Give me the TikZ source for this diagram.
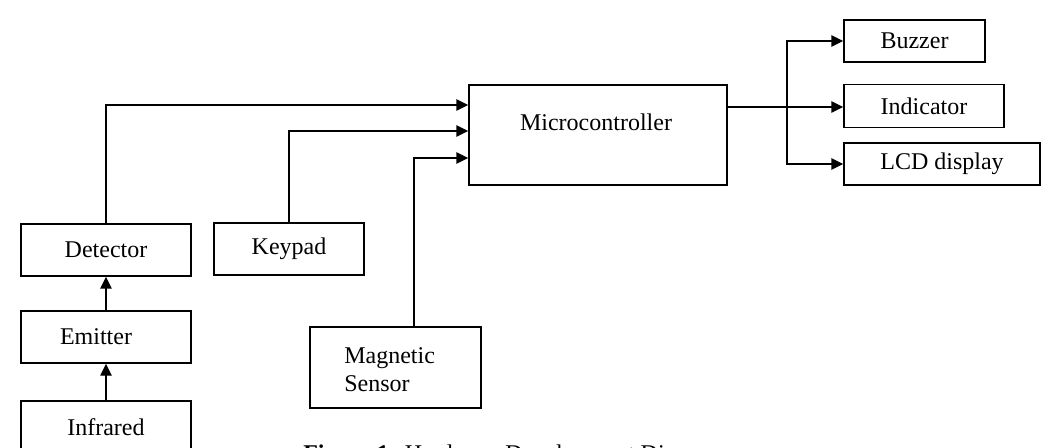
\documentclass[tikz,border=0pt]{standalone}
\usepackage{fontspec}
\setmainfont{Liberation Serif}
\usetikzlibrary{arrows.meta}
\begin{document}
\begin{tikzpicture}[x=0.75pt,y=-0.75pt,
  box/.style={draw,line width=1.1pt,inner sep=0pt,font=\fontsize{18}{21}\selectfont},
  lbl/.style={inner sep=0pt,font=\fontsize{18}{21}\selectfont},
  arr/.style={line width=1.1pt,-{Triangle[length=9pt,width=8.5pt]}},
  ln/.style={line width=1.1pt}]
\useasboundingbox[fill=white] (0,0) rectangle (1044,448);
\node[box,minimum width=193.5pt,minimum height=75pt] (mcu) at (598,135) {};
\node[lbl] (mcut) at (596,122) {Microcontroller};
\node[box,minimum width=105.75pt,minimum height=31.5pt] (buz) at (914.5,41) {Buzzer};
\node[box,minimum width=120pt,minimum height=32.25pt] (ind) at (924,106) {Indicator};
\node[box,minimum width=147pt,minimum height=31.5pt] (lcd) at (942,164) {LCD display};
\node[box,minimum width=127.5pt,minimum height=39pt] (det) at (106,250) {Detector};
\node[box,minimum width=127.5pt,minimum height=39pt] (emi) at (106,337) {\hspace*{-15pt}Emitter};
\node[box,minimum width=127.5pt,minimum height=39pt] (inf) at (106,427) {Infrared};
\node[box,minimum width=112.5pt,minimum height=39pt] (key) at (289,249) {Keypad};
\node[box,minimum width=128.25pt,minimum height=60.75pt] (mag) at (395.5,367.5) {};
\node[lbl,anchor=west,align=left] (magt) at (344,370) {Magnetic\\Sensor};
\coordinate (magtop) at (414,327);
\coordinate (split) at (787,107);
\node[lbl,anchor=base west] (cap) at (303,461) {\textbf{Figure 1:} Hardware Development Diagram};
% inputs
\draw[arr] (det.north) |- (mcu.west |- 0,105);
\draw[arr] (key.north) |- (mcu.west |- 0,131);
\draw[arr] (magtop) |- (mcu.west |- 0,158);
\draw[arr] (inf.north) -- (emi.south);
\draw[arr] (emi.north) -- (det.south);
% outputs
\draw[arr] (mcu.east |- split) -- (ind.west |- split);
\draw[arr] (split) |- (buz.west);
\draw[arr] (split) |- (lcd.west);
\end{tikzpicture}
\end{document}
